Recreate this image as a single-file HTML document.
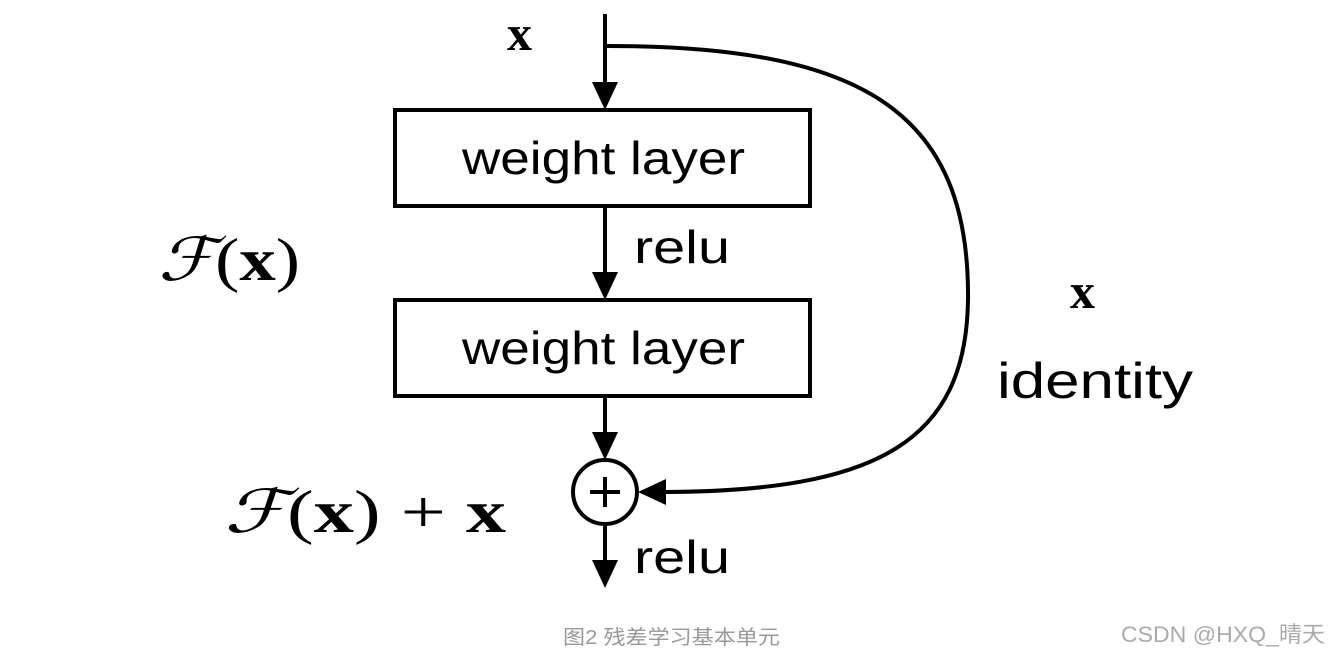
<!DOCTYPE html>
<html><head><meta charset="utf-8"><style>
body{margin:0;background:#fff;}
svg{display:block}
</style></head><body>
<svg width="1332" height="655" viewBox="0 0 1332 655" xmlns="http://www.w3.org/2000/svg">
<g stroke="#000" stroke-width="4" fill="none">
<line x1="605" y1="14" x2="605" y2="90"/>
<rect x="395" y="110" width="415" height="96" fill="#fff"/>
<line x1="605" y1="206" x2="605" y2="280"/>
<rect x="395" y="300" width="415" height="96" fill="#fff"/>
<line x1="605" y1="396" x2="605" y2="440"/>
<circle cx="605" cy="492" r="32" fill="#fff"/>
<line x1="590" y1="492" x2="620" y2="492"/>
<line x1="605" y1="477" x2="605" y2="507"/>
<line x1="605" y1="524" x2="605" y2="565"/>
<path d="M607 46 C 860 46, 970 110, 968 300 C 966 440, 880 492, 660 492"/>
</g>
<g fill="#000">
<polygon points="605,110 592,82 618,82"/>
<polygon points="605,300 592,272 618,272"/>
<polygon points="605,460 592,432 618,432"/>
<polygon points="605,588 592,560 618,560"/>
<polygon points="638,492 666,479 666,505"/>
</g>
<g font-family="Liberation Sans, sans-serif" fill="#000">
<text x="462" y="174" font-size="46" textLength="283" lengthAdjust="spacingAndGlyphs">weight layer</text>
<text x="462" y="364" font-size="46" textLength="283" lengthAdjust="spacingAndGlyphs">weight layer</text>
<text x="634" y="263" font-size="46" textLength="96" lengthAdjust="spacingAndGlyphs">relu</text>
<text x="634" y="573" font-size="46" textLength="96" lengthAdjust="spacingAndGlyphs">relu</text>
<text x="997" y="398" font-size="50" textLength="196" lengthAdjust="spacingAndGlyphs">identity</text>
</g>
<g font-family="Liberation Serif, serif" fill="#000">
<text x="507" y="50" font-size="50" font-weight="bold">x</text>
<text x="1070" y="308" font-size="50" font-weight="bold">x</text>
<text x="158" y="280" font-size="60" font-style="italic" textLength="142" lengthAdjust="spacingAndGlyphs">ℱ<tspan font-style="normal">(</tspan><tspan font-style="normal" font-weight="bold">x</tspan><tspan font-style="normal">)</tspan></text>
<text x="224" y="532" font-size="60" font-style="italic" textLength="282" lengthAdjust="spacingAndGlyphs">ℱ<tspan font-style="normal">(</tspan><tspan font-style="normal" font-weight="bold">x</tspan><tspan font-style="normal">) + </tspan><tspan font-style="normal" font-weight="bold">x</tspan></text>
</g>
<g font-family="Liberation Sans, 'Noto Sans CJK SC', sans-serif" fill="#999" font-size="20">
<text x="563" y="644" textLength="217" lengthAdjust="spacingAndGlyphs">图2 残差学习基本单元</text>
<text x="1121" y="642" fill="#aaa" font-size="22" textLength="204" lengthAdjust="spacingAndGlyphs">CSDN @HXQ_晴天</text>
</g>
</svg>
</body></html>
